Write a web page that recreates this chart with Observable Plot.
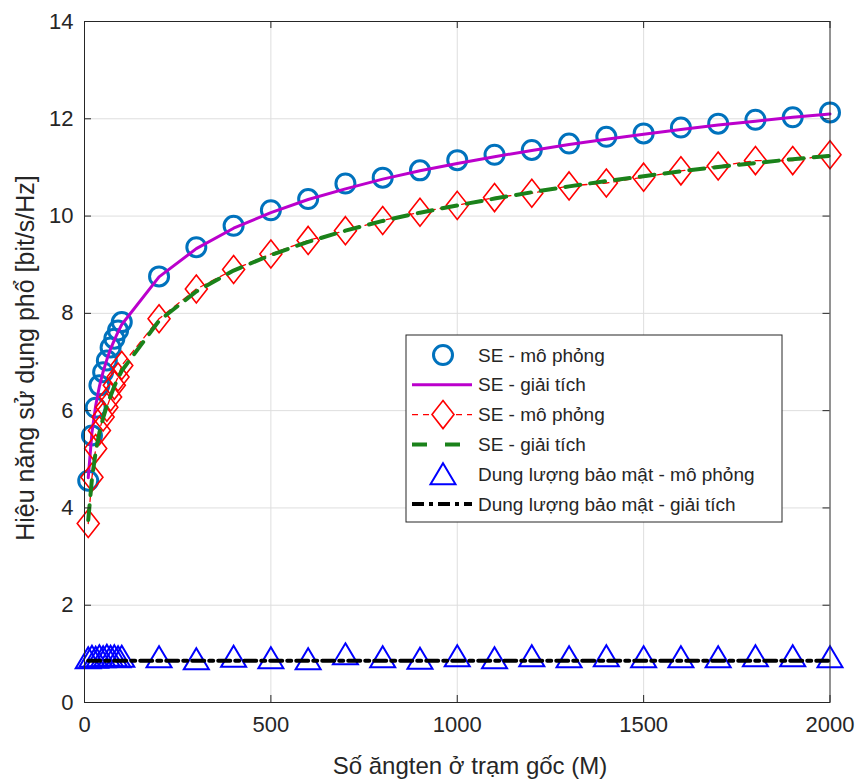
<!DOCTYPE html>
<html><head><meta charset="utf-8">
<script src="https://cdn.jsdelivr.net/npm/d3@7"></script>
<script src="https://cdn.jsdelivr.net/npm/@observablehq/plot@0.6"></script>
<style>
body{margin:0;background:#fff;}
#chart{position:relative;width:862px;height:782px;}
</style>
</head><body><div id="chart"></div>
<script>
// ---- data ----
const M = [10,20,30,40,50,60,70,80,90,100,200,300,400,500,600,700,800,900,1000,1100,1200,1300,1400,1500,1600,1700,1800,1900,2000];
const seSimA = [4.56,5.49,6.06,6.52,6.79,7.03,7.30,7.48,7.65,7.82,8.76,9.36,9.80,10.12,10.35,10.67,10.79,10.94,11.15,11.26,11.36,11.49,11.63,11.70,11.82,11.90,11.98,12.03,12.13];
const seAnaA = [4.62,5.55,6.10,6.50,6.80,7.05,7.27,7.45,7.62,7.77,8.75,9.33,9.75,10.07,10.34,10.56,10.76,10.93,11.08,11.22,11.35,11.47,11.58,11.68,11.78,11.87,11.95,12.03,12.10];
const seSimB = [3.68,4.63,5.22,5.59,5.87,6.07,6.28,6.52,6.69,6.93,7.89,8.50,8.90,9.22,9.50,9.70,9.91,10.08,10.22,10.38,10.47,10.62,10.68,10.80,10.93,11.03,11.14,11.14,11.26];
const seAnaB = [3.75,4.60,5.15,5.55,5.85,6.10,6.30,6.50,6.67,6.82,7.85,8.45,8.88,9.20,9.47,9.70,9.90,10.07,10.22,10.36,10.49,10.61,10.72,10.82,10.92,11.01,11.09,11.17,11.24];
const secSim = [0.91,0.94,0.92,0.95,0.93,0.96,0.94,0.95,0.93,0.94,0.93,0.89,0.94,0.91,0.89,0.99,0.93,0.90,0.95,0.91,0.95,0.93,0.95,0.93,0.93,0.93,0.95,0.95,0.93];
const secAna = [0.86,0.86,0.86,0.86,0.86,0.86,0.86,0.86,0.86,0.86,0.86,0.86,0.86,0.86,0.86,0.86,0.86,0.86,0.86,0.86,0.86,0.86,0.86,0.86,0.86,0.86,0.86,0.86,0.86];
const xTicks = [0,500,1000,1500,2000];
const yTicks = [0,2,4,6,8,10,12,14];
const xLabel = "Số ăngten ở trạm gốc (M)";
const yLabel = "Hiệu năng sử dụng phổ [bit/s/Hz]";
const legendLabels = ["SE - mô phỏng","SE - giải tích","SE - mô phỏng","SE - giải tích","Dung lượng bảo mật - mô phỏng","Dung lượng bảo mật - giải tích"];

// ---- layout / style ----
const W = 862, H = 782;
const mL = 84, mR = 32.5, mT = 21, mB = 80;
const innerW = W - mL - mR, innerH = H - mT - mB;
const axisColor = "#262626";
const font = "'Liberation Sans', Arial, Helvetica, sans-serif";
const cBlue = "#0072BD", cMag = "#bb00cc", cRed = "#ff0000", cGreen = "#1a821a", cTri = "#0000ff";

const rows = ys => M.map((m, i) => ({M: m, v: ys[i]}));

const diamondSym = {draw(ctx){ctx.moveTo(0,-14);ctx.lineTo(11,0);ctx.lineTo(0,14);ctx.lineTo(-11,0);ctx.closePath();}};
const triSym = {draw(ctx){ctx.moveTo(0,-11);ctx.lineTo(12.5,10);ctx.lineTo(-12.5,10);ctx.closePath();}};

const styleGreen = {dash: "15,10", width: 4};
const styleBlack = {dash: "12,5,4,5", width: 4};
const styleRed = {dash: "6,5", width: 1.3};

const svg = Plot.plot({
  width: W, height: H,
  marginLeft: mL, marginRight: mR, marginTop: mT, marginBottom: mB,
  style: {fontFamily: font, color: axisColor, background: "#fff", overflow: "visible"},
  x: {domain: [0, 2000], label: null},
  y: {domain: [0, 14], label: null},
  marks: [
    Plot.ruleX(xTicks.slice(1, -1), {x: d => d, stroke: "#dedede", strokeWidth: 1}),
    Plot.ruleY(yTicks.slice(1, -1), {y: d => d, stroke: "#dedede", strokeWidth: 1}),
    // SE simulation A (circles) + analytic (magenta)
    Plot.dot(rows(seSimA), {x: "M", y: "v", r: 9.5, stroke: cBlue, strokeWidth: 3, fill: "none"}),
    Plot.line(rows(seAnaA), {x: "M", y: "v", stroke: cMag, strokeWidth: 3}),
    // SE simulation B (diamonds, red dashed) + analytic (green dashed)
    Plot.line(rows(seSimB), {x: "M", y: "v", stroke: cRed, strokeWidth: styleRed.width, strokeDasharray: styleRed.dash}),
    Plot.dot(rows(seSimB), {x: "M", y: "v", symbol: diamondSym, stroke: cRed, strokeWidth: 1.6, fill: "none"}),
    Plot.line(rows(seAnaB), {x: "M", y: "v", stroke: cGreen, strokeWidth: styleGreen.width, strokeDasharray: styleGreen.dash}),
    // secrecy capacity
    Plot.dot(rows(secSim), {x: "M", y: "v", symbol: triSym, stroke: cTri, strokeWidth: 2, fill: "none"}),
    Plot.line(rows(secAna), {x: "M", y: "v", stroke: "#000", strokeWidth: styleBlack.width, strokeDasharray: styleBlack.dash}),
    // frame & inward ticks
    Plot.frame({stroke: axisColor, strokeWidth: 1}),
    Plot.tickX(xTicks, {x: d => d, insetTop: innerH - 7, stroke: axisColor}),
    Plot.tickX(xTicks, {x: d => d, insetBottom: innerH - 7, stroke: axisColor}),
    Plot.tickY(yTicks, {y: d => d, insetRight: innerW - 7, stroke: axisColor}),
    Plot.tickY(yTicks, {y: d => d, insetLeft: innerW - 7, stroke: axisColor}),
    Plot.axisX(xTicks, {tickSize: 0, tickPadding: 14, fontSize: 22, label: null, fill: axisColor, tickFormat: d => String(d)}),
    Plot.axisY(yTicks, {tickSize: 0, tickPadding: 11, fontSize: 22, label: null, fill: axisColor, tickFormat: d => String(d)})
  ]
});
document.getElementById("chart").appendChild(svg);

const s = d3.select(svg);
// axis titles
s.append("text").attr("x", 470).attr("y", 774)
  .attr("text-anchor", "middle").attr("font-size", 24).attr("fill", axisColor)
  .style("font-family", font).text(xLabel);
s.append("text").attr("transform", `translate(34,358) rotate(-90)`)
  .attr("text-anchor", "middle").attr("font-size", 25).attr("fill", axisColor)
  .style("font-family", font).text(yLabel);

// legend
const lg = s.append("g");
const lx0 = 406, ly0 = 335, lw = 376, lh = 187;
lg.append("rect").attr("x", lx0).attr("y", ly0).attr("width", lw).attr("height", lh)
  .attr("fill", "#fff").attr("stroke", axisColor).attr("stroke-width", 1);
const rowY = i => 355 + i * 29.8;
const sx0 = 412, sx1 = 472, mx = 443, tx = 478;
legendLabels.forEach((t, i) => {
  lg.append("text").attr("x", tx).attr("y", rowY(i)).attr("dy", "0.35em")
    .attr("text-anchor", "start")
    .attr("font-size", 19).attr("fill", axisColor).style("font-family", font).text(t);
});
// row 0: circle
lg.append("circle").attr("cx", mx).attr("cy", rowY(0)).attr("r", 9.5)
  .attr("fill", "none").attr("stroke", cBlue).attr("stroke-width", 3);
// row 1: magenta line
lg.append("line").attr("x1", sx0).attr("x2", sx1).attr("y1", rowY(1)).attr("y2", rowY(1))
  .attr("stroke", cMag).attr("stroke-width", 3);
// row 2: red dashed + diamond
lg.append("line").attr("x1", sx0).attr("x2", sx1).attr("y1", rowY(2)).attr("y2", rowY(2))
  .attr("stroke", cRed).attr("stroke-width", styleRed.width).attr("stroke-dasharray", styleRed.dash);
lg.append("path").attr("d", d3.symbol(diamondSym)()).attr("transform", `translate(${mx},${rowY(2)})`)
  .attr("fill", "#fff").attr("stroke", cRed).attr("stroke-width", 1.6);
// row 3: green dashed
lg.append("line").attr("x1", sx0).attr("x2", sx1).attr("y1", rowY(3)).attr("y2", rowY(3))
  .attr("stroke", cGreen).attr("stroke-width", styleGreen.width).attr("stroke-dasharray", "15,18");
// row 4: triangle
lg.append("path").attr("d", d3.symbol(triSym)()).attr("transform", `translate(${mx},${rowY(4)})`)
  .attr("fill", "none").attr("stroke", cTri).attr("stroke-width", 2);
// row 5: black dash-dot
lg.append("line").attr("x1", sx0).attr("x2", sx1).attr("y1", rowY(5)).attr("y2", rowY(5))
  .attr("stroke", "#000").attr("stroke-width", styleBlack.width).attr("stroke-dasharray", styleBlack.dash);
</script>
</body></html>
